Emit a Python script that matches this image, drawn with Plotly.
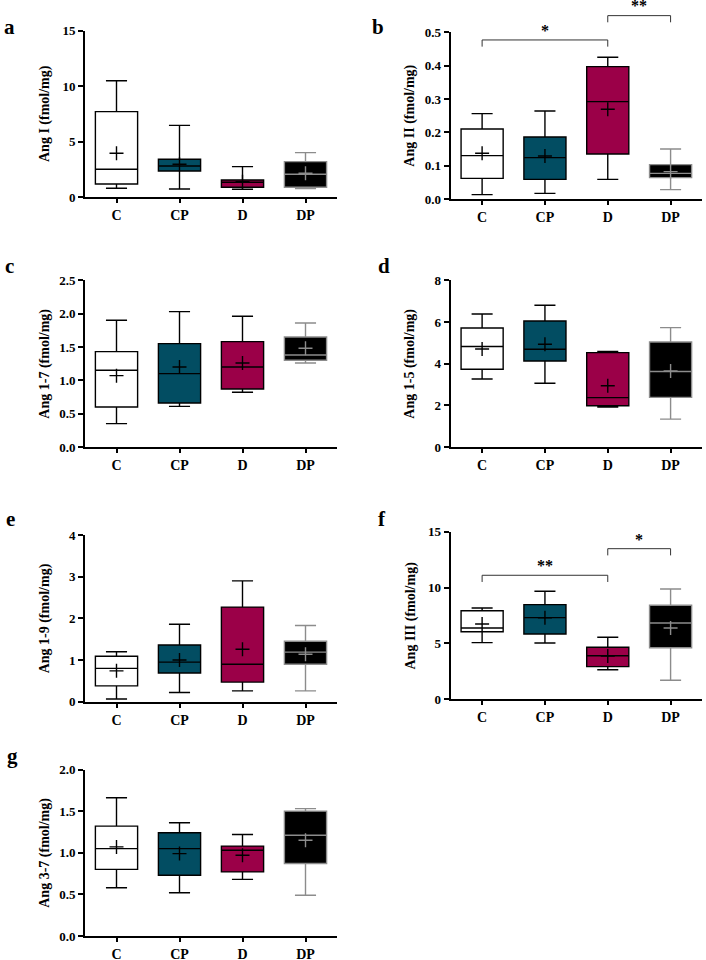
import plotly.graph_objects as go

# ---------------- data ----------------
categories = ["C", "CP", "D", "DP"]

# Panel a: Ang I (fmol/mg)
a_upper = [10.5, 6.48, 2.76, 4.02]
a_q3 = [7.71, 3.42, 1.56, 3.21]
a_median = [2.52, 2.82, 1.35, 2.07]
a_q1 = [1.2, 2.37, 0.9, 0.9]
a_lower = [0.81, 0.75, 0.72, 0.78]
a_mean = [3.96, 2.97, 1.4, 2.16]

# Panel b: Ang II (fmol/mg)
b_upper = [0.256, 0.264, 0.425, 0.15]
b_q3 = [0.21, 0.186, 0.397, 0.103]
b_median = [0.13, 0.124, 0.292, 0.077]
b_q1 = [0.062, 0.059, 0.135, 0.064]
b_lower = [0.013, 0.017, 0.059, 0.028]
b_mean = [0.137, 0.129, 0.269, 0.082]
b_sig_pairs = [(0, 2), (2, 3)]
b_sig_y = [0.477, 0.55]
b_sig_text = ["*", "**"]

# Panel c: Ang 1-7 (fmol/mg)
c_upper = [1.9, 2.03, 1.96, 1.86]
c_q3 = [1.43, 1.55, 1.58, 1.65]
c_median = [1.15, 1.1, 1.2, 1.38]
c_q1 = [0.6, 0.66, 0.87, 1.3]
c_lower = [0.35, 0.61, 0.82, 1.26]
c_mean = [1.07, 1.2, 1.26, 1.48]

# Panel d: Ang 1-5 (fmol/mg)
d_upper = [6.38, 6.8, 4.58, 5.73]
d_q3 = [5.71, 6.05, 4.53, 5.04]
d_median = [4.82, 4.69, 2.37, 3.62]
d_q1 = [3.73, 4.13, 1.98, 2.38]
d_lower = [3.26, 3.06, 1.92, 1.34]
d_mean = [4.7, 4.93, 2.94, 3.65]

# Panel e: Ang 1-9 (fmol/mg)
e_upper = [1.2, 1.86, 2.9, 1.83]
e_q3 = [1.09, 1.36, 2.27, 1.45]
e_median = [0.8, 0.95, 0.9, 1.19]
e_q1 = [0.38, 0.69, 0.47, 0.9]
e_lower = [0.065, 0.22, 0.26, 0.26]
e_mean = [0.74, 1.0, 1.26, 1.14]

# Panel f: Ang III (fmol/mg)
f_upper = [8.17, 9.67, 5.55, 9.87]
f_q3 = [7.93, 8.47, 4.66, 8.42]
f_median = [6.38, 7.31, 3.9, 6.83]
f_q1 = [6.05, 5.85, 2.92, 4.62]
f_lower = [5.07, 5.04, 2.65, 1.7]
f_mean = [6.74, 7.3, 3.88, 6.38]
f_sig_pairs = [(0, 2), (2, 3)]
f_sig_y = [11.1, 13.48]
f_sig_text = ["**", "*"]

# Panel g: Ang 3-7 (fmol/mg)
g_upper = [1.66, 1.36, 1.22, 1.53]
g_q3 = [1.32, 1.24, 1.08, 1.5]
g_median = [1.05, 1.05, 1.03, 1.21]
g_q1 = [0.8, 0.73, 0.77, 0.87]
g_lower = [0.58, 0.52, 0.68, 0.49]
g_mean = [1.07, 0.99, 0.97, 1.15]

titles = ["Ang I (fmol/mg)", "Ang II (fmol/mg)", "Ang 1-7 (fmol/mg)",
          "Ang 1-5 (fmol/mg)", "Ang 1-9 (fmol/mg)", "Ang III (fmol/mg)",
          "Ang 3-7 (fmol/mg)"]
letters = ["a", "b", "c", "d", "e", "f", "g"]
y_max = [15, 0.5, 2.5, 8, 4, 15, 2.0]
y_dtick = [5, 0.1, 0.5, 2, 1, 5, 0.5]
y_fmt = ["d", ".1f", ".1f", "d", "d", "d", ".1f"]

# ---------------- styling ----------------
W, H = 706, 960
FONT = "Liberation Serif"
fills = ["#ffffff", "#024d62", "#9b0048", "#000000"]
edge = ["#000000", "#000000", "#000000", "#8c8c8c"]

# plot area pixel boxes (left, right, top, bottom)
boxes_px = [
    (85, 337, 30.7, 197.3),
    (450.7, 702, 32.3, 199),
    (85, 337, 280.3, 447),
    (450.7, 702, 280.3, 447),
    (85, 337, 535, 701.7),
    (450.7, 702, 531.7, 699.3),
    (85, 337, 769.5, 936),
]
title_x_px = [45, 410, 45, 410, 45, 410, 45]
letter_pos_px = [(2, 27), (370, 27), (3, 266), (376, 266), (4, 519), (376, 519), (5, 756)]

panels = [
    (a_upper, a_q3, a_median, a_q1, a_lower, a_mean),
    (b_upper, b_q3, b_median, b_q1, b_lower, b_mean),
    (c_upper, c_q3, c_median, c_q1, c_lower, c_mean),
    (d_upper, d_q3, d_median, d_q1, d_lower, d_mean),
    (e_upper, e_q3, e_median, e_q1, e_lower, e_mean),
    (f_upper, f_q3, f_median, f_q1, f_lower, f_mean),
    (g_upper, g_q3, g_median, g_q1, g_lower, g_mean),
]
sigs = {1: (b_sig_pairs, b_sig_y, b_sig_text), 5: (f_sig_pairs, f_sig_y, f_sig_text)}

fig = go.Figure()
layout = dict(width=W, height=H,
              margin=dict(l=0, r=0, t=0, b=0, pad=0, autoexpand=False),
              paper_bgcolor="white", plot_bgcolor="white",
              showlegend=False, boxmode="overlay",
              font=dict(family=FONT, color="black"))
annotations = []
shapes = []

for p, (up, q3, med, q1, lo, mn) in enumerate(panels):
    n = p + 1
    xa = "x" if n == 1 else f"x{n}"
    ya = "y" if n == 1 else f"y{n}"
    xkey = "xaxis" if n == 1 else f"xaxis{n}"
    ykey = "yaxis" if n == 1 else f"yaxis{n}"
    l, r, t, b = boxes_px[p]
    for i, cat in enumerate(categories):
        fig.add_trace(go.Box(
            x=[cat], q1=[q1[i]], median=[med[i]], q3=[q3[i]],
            lowerfence=[lo[i]], upperfence=[up[i]],
            fillcolor=fills[i], line=dict(color=edge[i], width=1.4),
            width=0.67, whiskerwidth=0.5, boxpoints=False,
            xaxis=xa, yaxis=ya, hoverinfo="skip"))
        fig.add_trace(go.Scatter(
            x=[cat], y=[mn[i]], mode="markers", cliponaxis=False,
            marker=dict(symbol="cross-thin", size=10,
                        line=dict(width=1.4, color=edge[i])),
            xaxis=xa, yaxis=ya, hoverinfo="skip"))
    layout[xkey] = dict(
        domain=[l / W, r / W], anchor=ya, type="category",
        categoryorder="array", categoryarray=categories,
        range=[-0.5, 3.5], showline=True, linewidth=2, linecolor="black",
        ticks="outside", ticklen=4, tickwidth=1.5, tickcolor="black",
        automargin=False,
        showgrid=False, zeroline=False, fixedrange=True,
        tickfont=dict(family=FONT, size=14, weight="bold", color="black"))
    layout[ykey] = dict(
        domain=[1 - b / H, 1 - t / H], anchor=xa, automargin=False,
        range=[0, y_max[p]], tickmode="linear", tick0=0, dtick=y_dtick[p],
        tickformat=y_fmt[p], showline=True, linewidth=2, linecolor="black",
        ticks="outside", ticklen=5, tickwidth=1.5, tickcolor="black",
        showgrid=False, zeroline=False, fixedrange=True,
        tickfont=dict(family=FONT, size=13, weight="bold", color="black"))
    annotations.append(dict(
        text=titles[p], xref="paper", yref="paper",
        x=title_x_px[p] / W, y=1 - (t + b) / 2 / H, textangle=-90,
        showarrow=False, xanchor="center", yanchor="middle",
        font=dict(family=FONT, size=14, weight="bold", color="black")))
    lx, ly = letter_pos_px[p]
    annotations.append(dict(
        text=letters[p], xref="paper", yref="paper",
        x=lx / W, y=1 - ly / H, showarrow=False,
        xanchor="left", yanchor="middle",
        font=dict(family=FONT, size=21, weight="bold", color="black")))
    if p in sigs:
        pairs, ys, txts = sigs[p]
        xd = f"{xa} domain"
        yd = f"{ya} domain"
        for (i0, i1), yv, tx in zip(pairs, ys, txts):
            x0 = (i0 + 0.5) / 4
            x1 = (i1 + 0.5) / 4
            yy = yv / y_max[p]
            ye = yy - 0.04
            for (sx0, sy0, sx1, sy1) in [(x0, yy, x1, yy), (x0, ye, x0, yy), (x1, ye, x1, yy)]:
                shapes.append(dict(type="line", xref=xd, yref=yd,
                                   x0=sx0, y0=sy0, x1=sx1, y1=sy1,
                                   line=dict(color="#333333", width=1)))
            annotations.append(dict(
                text=tx, xref=xd, yref=yd, x=(x0 + x1) / 2, y=yy - 0.005,
                showarrow=False, xanchor="center", yanchor="bottom",
                font=dict(family=FONT, size=16, weight="bold", color="black")))

layout["annotations"] = annotations
layout["shapes"] = shapes
fig.update_layout(**layout)
fig.write_html("out.html", config={"displayModeBar": False},
               post_script="document.body.style.margin='0px';document.body.style.padding='0px';")
